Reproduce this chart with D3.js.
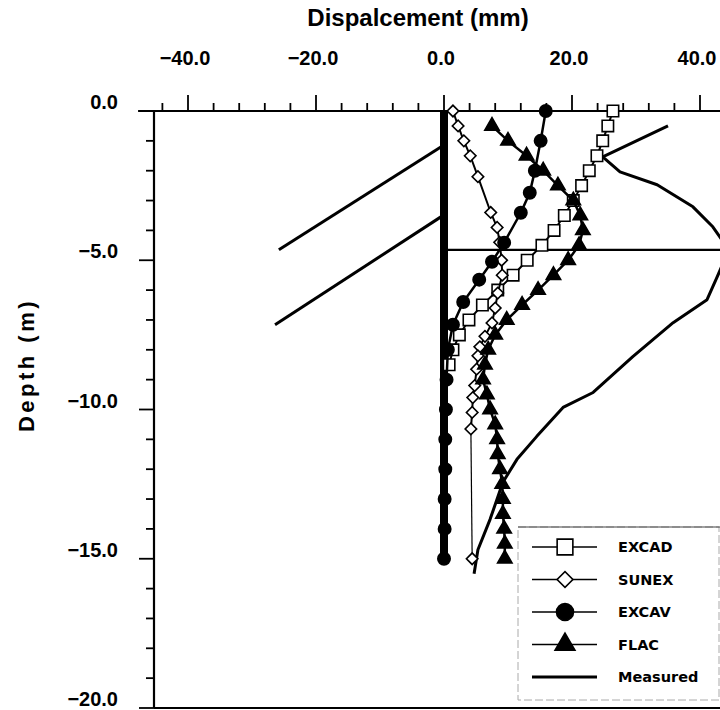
<!DOCTYPE html>
<html>
<head>
<meta charset="utf-8">
<script src="https://cdn.jsdelivr.net/npm/d3@7"></script>
<style>
  body { margin: 0; background: #fff; }
  svg { display: block; }
</style>
</head>
<body>
<div id="chart"></div>
<script>
const width = 720;
const height = 710;

// axis ticks
const xMajorTicks = [-40, -20, 0, 20, 40];
const xMinorTicks = [-44, -36, -32, -28, -24, -16, -12, -8, -4, 4, 8, 12, 16, 24, 28, 32, 36, 44];
const yMajorTicks = [0, -5, -10, -15, -20];
const yMinorTicks = [-1, -2, -3, -4, -6, -7, -8, -9, -11, -12, -13, -14, -16, -17, -18, -19];

// EXCAD (open squares)
const excadDepth = [0, -0.5, -1, -1.5, -2, -2.5, -3, -3.5, -4, -4.5, -5, -5.5, -6, -6.5, -7, -7.5, -8, -8.5];
const excadDisp  = [26.4, 25.6, 24.8, 23.9, 22.7, 21.5, 20.2, 18.8, 17.2, 15.3, 13.0, 10.8, 8.4, 6.0, 3.9, 2.4, 1.4, 0.8];

// SUNEX (open diamonds)
const sunexDepth = [0, -0.5, -1, -1.5, -2.2, -3.4, -3.9, -4.4, -5.0, -5.5, -6.1, -6.6, -7.1, -7.55, -7.9, -8.2, -8.65, -9.2, -9.6, -10.1, -10.65, -15];
const sunexDisp  = [1.4, 2.2, 3.1, 4.1, 5.3, 7.3, 8.3, 8.7, 9.0, 9.1, 8.4, 8.0, 7.5, 6.4, 5.6, 5.3, 5.1, 4.8, 4.5, 4.4, 4.2, 4.4];

// EXCAV (filled circles)
const excavDepth = [0, -1, -2, -2.74, -3.41, -4.41, -5.05, -5.65, -6.4, -7.16, -8, -9, -10, -11, -12, -13, -14, -15];
const excavDisp  = [15.9, 15.1, 14.2, 13.4, 12.0, 9.4, 7.5, 5.5, 3.0, 1.4, 0.6, 0.4, 0.3, 0.2, 0.2, 0.1, 0.1, 0];

// FLAC (filled triangles)
const flacDepth = [-0.5, -1, -1.5, -2, -2.5, -3, -3.5, -4, -4.5, -5, -5.5, -6, -6.5, -7, -7.5, -8, -8.5, -9, -9.5, -10, -10.5, -11, -11.5, -12, -12.5, -13, -13.5, -14, -14.5, -15];
const flacDisp  = [7.5, 10.0, 12.9, 15.5, 17.8, 20.2, 21.3, 21.7, 21.1, 19.4, 17.1, 14.7, 12.2, 9.8, 8.0, 6.9, 6.4, 6.1, 6.7, 7.2, 8.0, 8.3, 8.4, 8.75, 9.1, 9.2, 9.2, 9.4, 9.5, 9.5];

// Measured (plain line)
const measDepth = [-0.5, -1.54, -2.04, -2.47, -3.21, -3.88, -4.65, -5.55, -6.32, -7.09, -8.23, -9.43, -9.93, -10.9, -11.67, -12.44, -13.68, -14.7, -15.5];
const measDisp  = [35.0, 24.8, 27.5, 33.3, 38.9, 42.0, 44.5, 42.7, 41.1, 35.8, 29.5, 23.3, 18.6, 14.5, 11.4, 9.2, 7.2, 5.3, 4.7];

// wall, anchors and strut
const wallDepth = [0, -15];
const wallDisp = [0, 0];
const anchor1Depth = [-1.14, -4.65];
const anchor1Disp = [0, -25.8];
const anchor2Depth = [-3.48, -7.16];
const anchor2Disp = [0, -26.4];
const strutDepth = [-4.65, -4.65];
const strutDisp = [0, 50];

const legendNames = ["EXCAD", "SUNEX", "EXCAV", "FLAC", "Measured"];

const x = d3.scaleLinear().domain([0, 40]).range([444, 700]);
const y = d3.scaleLinear().domain([0, -20]).range([111, 708]);
const xLeft = x.invert(154);

const svg = d3.select("#chart").append("svg")
  .attr("width", width)
  .attr("height", height)
  .style("font-family", "'Liberation Sans', Arial, sans-serif");

const zip = (ds, vs) => ds.map((d, i) => ({ d: d, v: vs[i] }));
const line = d3.line().x(p => x(p.v)).y(p => y(p.d));

// frame: top axis line, left axis line, bottom line
svg.append("line")
  .attr("x1", x(-47.8)).attr("x2", width + 5)
  .attr("y1", y(0)).attr("y2", y(0))
  .attr("stroke", "#000").attr("stroke-width", 2.2);
svg.append("line")
  .attr("x1", x(xLeft)).attr("x2", x(xLeft))
  .attr("y1", y(0)).attr("y2", y(-20))
  .attr("stroke", "#000").attr("stroke-width", 2.2);
svg.append("line")
  .attr("x1", x(xLeft)).attr("x2", width + 5)
  .attr("y1", y(-20)).attr("y2", y(-20))
  .attr("stroke", "#000").attr("stroke-width", 2.2);

// top ticks (pointing up)
svg.selectAll(".xmaj").data(xMajorTicks).join("line")
  .attr("x1", d => x(d)).attr("x2", d => x(d))
  .attr("y1", y(0)).attr("y2", y(0) - 16)
  .attr("stroke", "#000").attr("stroke-width", 1.8);
svg.selectAll(".xmin").data(xMinorTicks).join("line")
  .attr("x1", d => x(d)).attr("x2", d => x(d))
  .attr("y1", y(0)).attr("y2", y(0) - 8)
  .attr("stroke", "#000").attr("stroke-width", 1.8);
svg.selectAll(".xlab").data(xMajorTicks).join("text")
  .attr("x", d => x(d) - 3)
  .attr("y", 65)
  .attr("text-anchor", "middle")
  .attr("font-size", 20).attr("font-weight", "bold")
  .text(d => d3.format(".1f")(d));

// left ticks (pointing left)
svg.selectAll(".ymaj").data(yMajorTicks).join("line")
  .attr("x1", x(xLeft)).attr("x2", x(xLeft) - 15)
  .attr("y1", d => y(d)).attr("y2", d => y(d))
  .attr("stroke", "#000").attr("stroke-width", 1.8);
svg.selectAll(".ymin").data(yMinorTicks).join("line")
  .attr("x1", x(xLeft)).attr("x2", x(xLeft) - 8)
  .attr("y1", d => y(d)).attr("y2", d => y(d))
  .attr("stroke", "#000").attr("stroke-width", 1.8);
svg.selectAll(".ylab").data(yMajorTicks).join("text")
  .attr("x", 118)
  .attr("y", d => y(d) - 2)
  .attr("text-anchor", "end")
  .attr("font-size", 20).attr("font-weight", "bold")
  .text(d => d3.format(".1f")(d));

// axis titles
svg.append("text")
  .attr("x", 418).attr("y", 26)
  .attr("text-anchor", "middle")
  .attr("font-size", 24).attr("font-weight", "bold")
  .text("Dispalcement (mm)");
svg.append("text")
  .attr("transform", "translate(34,365) rotate(-90)")
  .attr("text-anchor", "middle")
  .attr("font-size", 22).attr("font-weight", "bold")
  .attr("letter-spacing", 3.5)
  .text("Depth (m)");

// clip for the plotting area
svg.append("clipPath").attr("id", "plot")
  .append("rect").attr("x", x(xLeft)).attr("y", 0).attr("width", width).attr("height", y(-20));
const plot = svg.append("g").attr("clip-path", "url(#plot)");

// wall, anchors, strut
plot.append("path").datum(zip(wallDepth, wallDisp)).attr("d", line)
  .attr("fill", "none").attr("stroke", "#000").attr("stroke-width", 8);
[[anchor1Depth, anchor1Disp], [anchor2Depth, anchor2Disp]].forEach(([ds, vs]) => {
  plot.append("path").datum(zip(ds, vs)).attr("d", line)
    .attr("fill", "none").attr("stroke", "#000").attr("stroke-width", 3);
});
plot.append("path").datum(zip(strutDepth, strutDisp)).attr("d", line)
  .attr("fill", "none").attr("stroke", "#000").attr("stroke-width", 2.2);

// measured line
plot.append("path").datum(zip(measDepth, measDisp)).attr("d", line)
  .attr("fill", "none").attr("stroke", "#000").attr("stroke-width", 3)
  .attr("stroke-linejoin", "round");

const series = [
  { depth: excadDepth, disp: excadDisp, sym: d3.symbolSquare, size: 130, rot: 0, fill: "#fff", lw: 2 },
  { depth: sunexDepth, disp: sunexDisp, sym: d3.symbolSquare, size: 66, rot: 45, fill: "#fff", lw: 2 },
  { depth: excavDepth, disp: excavDisp, sym: d3.symbolCircle, size: 120, rot: 0, fill: "#000", lw: 2.5 },
  { depth: flacDepth, disp: flacDisp, sym: d3.symbolTriangle, size: 90, rot: 0, fill: "#000", lw: 2.5 }
];

series.forEach((s, k) => {
  const pts = zip(s.depth, s.disp);
  if (k === 1) {
    // SUNEX: the last long segment is drawn thin in the source
    plot.append("path").datum(pts.slice(0, -1)).attr("d", line)
      .attr("fill", "none").attr("stroke", "#000").attr("stroke-width", s.lw);
    plot.append("path").datum(pts.slice(-2)).attr("d", line)
      .attr("fill", "none").attr("stroke", "#000").attr("stroke-width", 1.2);
  } else {
    plot.append("path").datum(pts).attr("d", line)
      .attr("fill", "none").attr("stroke", "#000").attr("stroke-width", s.lw);
  }
  plot.selectAll(null).data(pts).join("path")
    .attr("transform", p => `translate(${x(p.v)},${y(p.d)}) rotate(${s.rot})`)
    .attr("d", d3.symbol().type(s.sym).size(s.size))
    .attr("fill", s.fill).attr("stroke", "#000").attr("stroke-width", 1.6);
});

// legend
const lg = svg.append("g");
lg.append("rect")
  .attr("x", 518).attr("y", 527).attr("width", 201).attr("height", 173)
  .attr("fill", "#fff").attr("stroke", "#aaa").attr("stroke-width", 1)
  .attr("stroke-dasharray", "8,3");
lg.append("line").attr("x1", 518).attr("x2", 720).attr("y1", 527).attr("y2", 527)
  .attr("stroke", "#444").attr("stroke-width", 1.2);
legendNames.forEach((name, i) => {
  const ly = 547 + i * 32.5;
  const isMeas = i === 4;
  lg.append("line").attr("x1", 532).attr("x2", 597).attr("y1", ly).attr("y2", ly)
    .attr("stroke", "#000").attr("stroke-width", isMeas ? 3 : 1.6);
  if (!isMeas) {
    const s = series[i];
    lg.append("path")
      .attr("transform", `translate(565,${ly}) rotate(${s.rot})`)
      .attr("d", d3.symbol().type(s.sym).size(s.size * 1.9))
      .attr("fill", s.fill).attr("stroke", "#000").attr("stroke-width", 1.6);
  }
  lg.append("text").attr("x", 618).attr("y", ly + 5)
    .attr("font-family", "'DejaVu Sans', sans-serif")
    .attr("font-size", 14.5).attr("font-weight", "bold")
    .text(name);
});
</script>
</body>
</html>
